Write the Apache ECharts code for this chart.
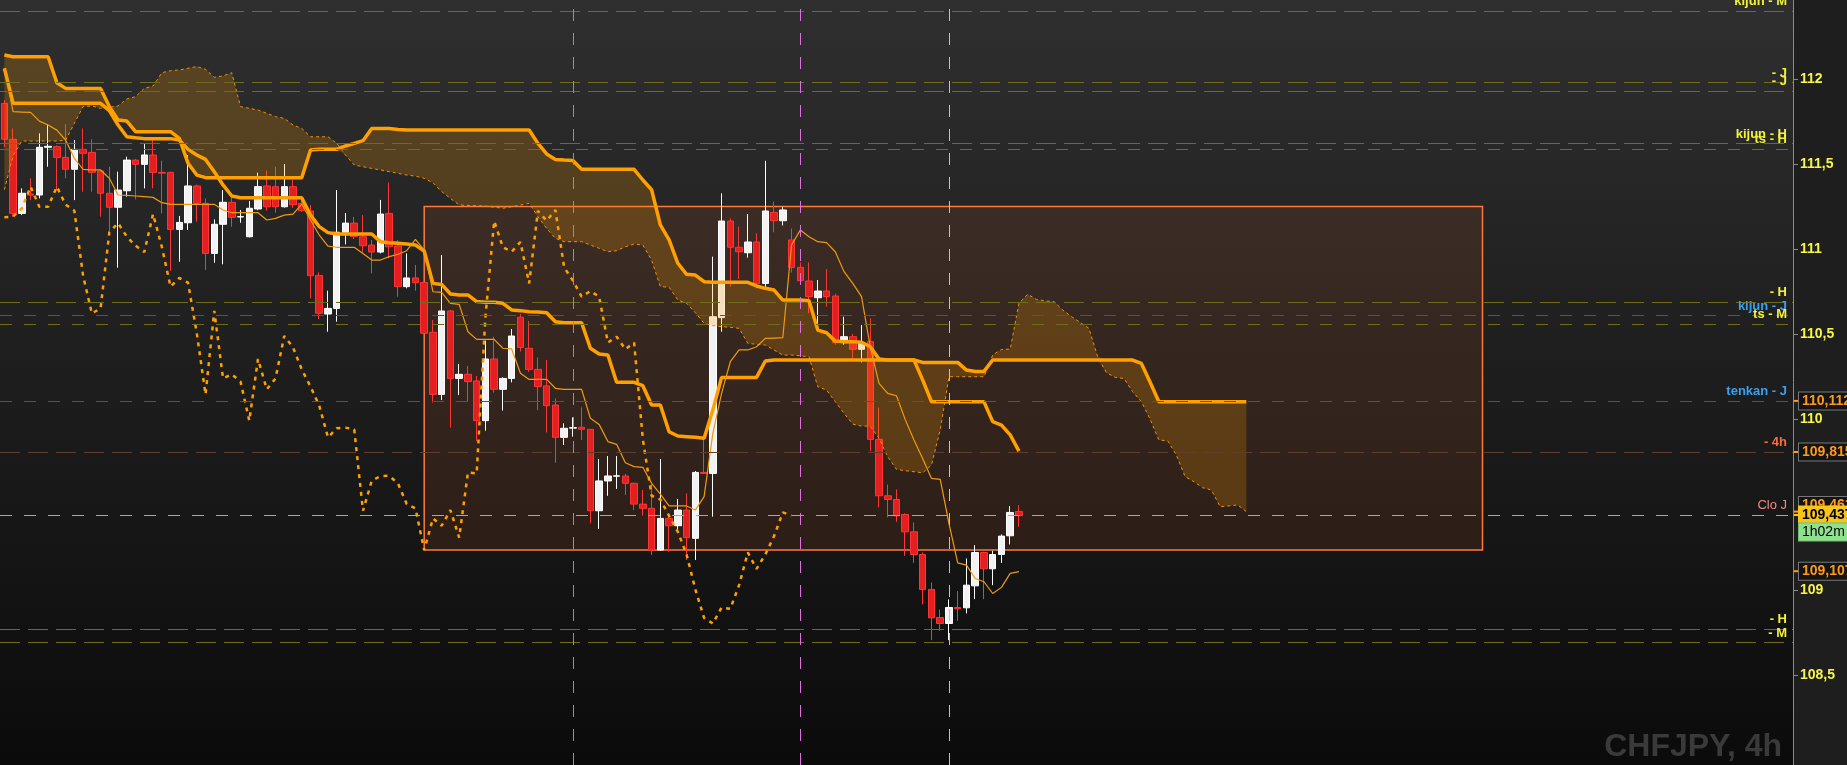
<!DOCTYPE html>
<html><head><meta charset="utf-8">
<script src="https://cdn.jsdelivr.net/npm/echarts@6/dist/echarts.min.js"></script>
<style>html,body{margin:0;padding:0;background:#1e1e1e;overflow:hidden}#c{width:1847px;height:765px;}</style>
</head><body><div id="c"></div><script>
// ---- candles (4h CHFJPY) ----
const candleOpen = [111.857,111.646,111.211,111.325,111.319,111.599,111.603,111.540,111.470,111.587,
111.569,111.460,111.329,111.247,111.344,111.524,111.499,111.554,111.452,111.452,
111.117,111.156,111.372,111.270,110.976,111.147,111.276,111.190,111.074,111.237,
111.372,111.368,111.250,111.368,111.270,111.225,110.847,110.620,110.653,111.100,
111.154,111.074,111.025,110.984,111.211,111.019,110.781,110.832,110.806,110.513,
110.148,110.638,110.242,110.266,110.227,109.994,110.356,110.178,110.242,110.601,
110.419,110.295,110.198,110.086,109.896,109.950,109.955,109.943,109.465,109.640,
109.668,109.669,109.626,109.504,109.479,109.234,109.420,109.377,109.469,109.303,
109.690,109.684,110.599,111.166,111.012,110.980,111.043,110.800,111.217,111.168,
111.055,110.894,110.814,110.716,110.755,110.726,110.452,110.487,110.413,110.458,
109.884,109.553,109.531,109.443,109.341,109.208,109.003,108.838,108.803,108.897,
108.895,109.024,109.220,109.124,109.208,109.318,109.461];
const candleClose = [111.646,111.211,111.329,111.318,111.599,111.605,111.540,111.470,111.587,111.564,
111.452,111.329,111.247,111.348,111.524,111.499,111.554,111.452,111.447,111.117,
111.158,111.372,111.270,110.976,111.147,111.276,111.188,111.192,111.241,111.368,
111.250,111.250,111.368,111.262,111.227,110.845,110.624,110.653,111.100,111.154,
111.074,111.021,110.984,111.207,111.015,110.781,110.832,110.804,110.507,110.148,
110.638,110.242,110.266,110.223,109.994,110.356,110.178,110.242,110.491,110.424,
110.295,110.194,110.082,109.896,109.949,109.953,109.943,109.465,109.640,109.669,
109.670,109.626,109.504,109.479,109.234,109.420,109.377,109.469,109.307,109.690,
109.684,110.604,111.166,111.012,110.986,111.043,110.800,111.225,111.168,111.231,
110.894,110.816,110.722,110.755,110.722,110.452,110.487,110.413,110.452,109.884,
109.553,109.531,109.435,109.341,109.208,109.003,108.836,108.803,108.897,108.889,
109.028,109.220,109.124,109.208,109.316,109.455,109.437];
const candleLow = [111.600,111.190,111.201,111.289,111.299,111.485,111.348,111.417,111.289,111.338,
111.338,111.192,111.104,110.892,111.309,111.293,111.358,111.358,111.211,110.873,
110.927,111.113,111.162,110.879,110.921,110.912,111.133,111.156,111.070,111.230,
111.227,111.215,111.245,111.243,111.220,110.712,110.589,110.516,110.575,111.029,
111.060,110.982,110.859,110.976,110.947,110.722,110.771,110.757,110.500,110.100,
110.115,109.953,110.144,110.109,109.874,109.935,110.158,110.053,110.219,110.400,
110.280,110.056,109.925,109.747,109.851,109.900,109.880,109.391,109.358,109.553,
109.593,109.557,109.469,109.436,109.205,109.230,109.225,109.352,109.176,109.176,
109.680,109.430,110.516,110.781,110.826,110.951,110.771,110.780,111.100,111.140,
110.863,110.800,110.624,110.536,110.663,110.440,110.440,110.356,110.336,109.815,
109.484,109.426,109.400,109.200,109.159,108.915,108.705,108.760,108.705,108.819,
108.862,108.946,108.946,109.028,109.159,109.267,109.371];
const candleHigh = [111.877,111.710,111.358,111.417,111.681,111.734,111.610,111.736,111.642,111.710,
111.646,111.466,111.485,111.456,111.544,111.530,111.618,111.646,111.520,111.456,
111.196,111.554,111.380,111.299,111.176,111.348,111.309,111.231,111.284,111.450,
111.462,111.485,111.501,111.407,111.313,111.260,110.865,110.757,111.348,111.213,
111.190,111.201,111.055,111.290,111.393,111.055,110.976,110.908,110.810,110.585,
110.967,110.644,110.327,110.315,110.256,110.464,110.487,110.248,110.532,110.620,
110.579,110.366,110.350,110.125,109.978,110.013,110.072,109.945,109.769,109.786,
109.786,109.681,109.630,109.587,109.622,109.769,109.450,109.534,109.567,109.698,
109.880,110.957,111.329,111.182,111.133,111.207,111.094,111.520,111.280,111.250,
111.123,110.923,110.923,110.820,110.884,110.740,110.604,110.503,110.556,110.595,
110.071,109.619,109.590,109.450,109.396,109.220,109.044,108.885,108.944,108.993,
109.185,109.263,109.225,109.230,109.326,109.492,109.498];

// ---- Ichimoku ----
const tenkan = [112.060,111.808,111.806,111.804,111.753,111.730,111.700,111.642,111.534,111.470,
111.466,111.466,111.417,111.319,111.317,111.313,111.309,111.305,111.274,111.264,
111.264,111.264,111.264,111.264,111.264,111.231,111.215,111.215,111.215,111.215,
111.172,111.182,111.201,111.207,111.266,111.172,111.084,111.019,111.012,111.012,
111.012,110.976,110.937,110.937,110.957,110.971,110.992,111.059,110.996,110.751,
110.747,110.683,110.677,110.516,110.471,110.471,110.471,110.419,110.415,110.272,
110.236,110.236,110.236,110.184,110.178,110.178,110.178,110.008,109.972,109.871,
109.855,109.747,109.724,109.720,109.626,109.563,109.493,109.493,109.493,109.469,
109.548,109.919,110.154,110.340,110.409,110.409,110.428,110.477,110.479,110.481,
111.025,111.113,111.074,111.045,111.039,110.986,110.869,110.800,110.722,110.428,
110.213,110.154,110.140,110.000,109.880,109.770,109.655,109.649,109.390,109.159,
109.146,109.067,109.048,108.979,109.015,109.097,109.107];
const kijun = [112.063,111.857,111.857,111.857,111.857,111.857,111.857,111.857,111.857,111.857,
111.857,111.857,111.814,111.730,111.661,111.655,111.650,111.650,111.650,111.650,
111.642,111.587,111.554,111.528,111.456,111.378,111.313,111.303,111.303,111.303,
111.303,111.303,111.303,111.303,111.303,111.201,111.133,111.098,111.090,111.090,
111.090,111.090,111.090,111.045,111.039,111.035,111.031,111.025,110.990,110.800,
110.794,110.738,110.732,110.732,110.693,110.689,110.689,110.683,110.644,110.640,
110.634,110.632,110.628,110.575,110.569,110.569,110.569,110.419,110.385,110.379,
110.219,110.219,110.219,110.199,110.086,110.086,109.929,109.904,109.900,109.896,
109.890,110.056,110.248,110.248,110.248,110.248,110.248,110.344,110.350,110.350,
110.350,110.350,110.350,110.350,110.350,110.350,110.350,110.350,110.350,110.350,
110.350,110.350,110.350,110.350,110.350,110.232,110.105,110.105,110.105,110.105,
110.105,110.105,110.105,109.988,109.968,109.910,109.815];
const spanA = [111.350,111.550,111.636,111.636,111.636,111.636,111.636,111.640,111.740,111.838,
111.842,111.828,111.834,111.842,111.883,111.896,111.945,111.959,112.037,112.049,
112.053,112.063,112.073,112.057,112.010,112.018,112.037,111.838,111.828,111.818,
111.799,111.779,111.769,111.730,111.710,111.661,111.661,111.661,111.622,111.554,
111.495,111.485,111.475,111.466,111.456,111.446,111.436,111.430,111.417,111.391,
111.339,111.299,111.260,111.258,111.256,111.254,111.247,111.241,111.250,111.260,
111.270,111.192,111.123,111.064,111.045,111.045,111.045,111.025,111.006,110.986,
110.992,111.015,111.031,111.025,110.937,110.781,110.777,110.702,110.683,110.628,
110.565,110.552,110.546,110.542,110.536,110.448,110.442,110.438,110.409,110.379,
110.379,110.375,110.369,110.193,110.174,110.105,110.037,109.974,109.962,109.962,
109.890,109.782,109.708,109.700,109.694,109.688,109.733,109.940,110.252,110.252,
110.252,110.252,110.252,110.379,110.412,110.414,110.683,110.736,110.706,110.697,
110.693,110.644,110.605,110.571,110.536,110.370,110.276,110.248,110.242,110.164,
110.105,110.002,109.880,109.876,109.792,109.665,109.636,109.600,109.587,109.489,
109.493,109.499,109.460];
const spanB = [112.141,112.131,112.131,112.131,112.131,112.131,111.978,111.945,111.945,111.945,
111.945,111.945,111.838,111.759,111.753,111.691,111.691,111.691,111.691,111.691,
111.652,111.505,111.436,111.421,111.421,111.421,111.421,111.421,111.421,111.421,
111.421,111.421,111.421,111.421,111.421,111.583,111.587,111.587,111.587,111.607,
111.622,111.638,111.710,111.710,111.710,111.704,111.700,111.700,111.701,111.701,
111.701,111.701,111.701,111.701,111.701,111.701,111.701,111.701,111.701,111.701,
111.701,111.622,111.560,111.528,111.524,111.521,111.470,111.470,111.470,111.470,
111.470,111.470,111.470,111.407,111.350,111.143,111.055,110.918,110.853,110.849,
110.810,110.806,110.806,110.806,110.806,110.806,110.785,110.771,110.761,110.702,
110.702,110.702,110.698,110.526,110.510,110.461,110.458,110.458,110.454,110.428,
110.356,110.350,110.350,110.350,110.350,110.336,110.336,110.336,110.336,110.336,
110.291,110.283,110.283,110.350,110.350,110.350,110.350,110.350,110.350,110.350,
110.350,110.350,110.350,110.350,110.350,110.350,110.350,110.350,110.350,110.350,
110.330,110.219,110.105,110.105,110.105,110.105,110.105,110.105,110.105,110.105,
110.105,110.105,110.105];
const chikou = [111.188,111.192,111.241,111.368,111.250,111.250,111.368,111.262,111.227,110.845,
110.624,110.653,111.100,111.154,111.074,111.021,110.984,111.207,111.015,110.781,
110.832,110.804,110.507,110.148,110.638,110.242,110.266,110.223,109.994,110.356,
110.178,110.242,110.491,110.424,110.295,110.194,110.082,109.896,109.949,109.953,
109.943,109.465,109.640,109.669,109.670,109.626,109.504,109.479,109.234,109.420,
109.377,109.469,109.307,109.690,109.684,110.604,111.166,111.012,110.986,111.043,
110.800,111.225,111.168,111.231,110.894,110.816,110.722,110.755,110.722,110.452,
110.487,110.413,110.452,109.884,109.553,109.531,109.435,109.341,109.208,109.003,
108.836,108.803,108.897,108.889,109.028,109.220,109.124,109.208,109.316,109.455,
109.437];

// ---- levels, tags, markers ----
const levelValues = [112.403,111.982,111.931,111.617,111.593,110.689,110.614,110.561,110.112,109.815,109.437,108.774,108.686];
const levelLabels = ['kijun - M','- J','- J','kijun - H','ts - H','- H','kijun - J','ts - M','tenkan - J','- 4h','Clo J','- H','- M'];
const tagValues = [110.112,109.815,109.461,109.107,109.437];
const tagLabels = ['110,112','109,815','109,461','109,107','109,437'];
const timerLabel = '1h02m';
const vLineIndex = [65,91,108];
const boxCorners = [[48,111.252],[169,109.234]];
const yTickValues = [108.5,109,110,110.5,111,111.5,112];
const symbolLabel = 'CHFJPY, 4h';

// ---- styles ----
const FONT = '"Liberation Sans", Arial, sans-serif';
const levelStyle = {
  'kijun - M':{c:'#6d6d1c',t:'#f2f23a',d:[20,8]},
  '- J':{c:'#6d6d1c',t:'#f2f23a',d:[20,8]},
  'kijun - H':{c:'#6d6d1c',t:'#f2f23a',d:[20,8]},
  'ts - H':{c:'#6d6d1c',t:'#f2f23a',d:[12,12]},
  '- H':{c:'#6d6d1c',t:'#f2f23a',d:[20,8]},
  'kijun - J':{c:'#3d5a6e',t:'#3aa0ee',d:[12,12]},
  'ts - M':{c:'#6d6d1c',t:'#f2f23a',d:[12,12]},
  'tenkan - J':{c:'#3d5a6e',t:'#3aa0ee',d:[12,12]},
  '- 4h':{c:'#5e3e2c',t:'#ff6a3a',d:[20,8]},
  'Clo J':{c:'#f08a8a',t:'#f08a8a',d:[12,12],n:true},
  '- M':{c:'#6d6d1c',t:'#f2f23a',d:[20,8]}
};
const vColors = ['#6a98e6','#e26ee2','#f4c23c'];
const HIDDEN = 'rgba(0,0,0,0)';

const N = 205;
const cats = Array.from({length:N},(_,i)=>String(i));
const candleData = candleOpen.map((o,i)=>[o,candleClose[i],candleLow[i],candleHigh[i]]);
const cloudBase = spanA.map((a,i)=>Math.min(a,spanB[i]));
const cloudBand = spanA.map((a,i)=>Math.abs(a-spanB[i]));
const fmt = v => String(v).replace('.',',');

const markLineData = [];
levelValues.forEach((v,i)=>{
  const s = levelStyle[levelLabels[i]];
  markLineData.push({yAxis:v, lineStyle:{color:s.c,type:s.d,width:1},
    label:{show:true,position:'insideEndTop',formatter:levelLabels[i],color:s.t,
      fontWeight:s.n?'normal':'bold',fontSize:13,fontFamily:FONT,distance:[6,3]}});
});
vLineIndex.forEach((x,i)=>{
  markLineData.push({xAxis:x, lineStyle:{color:vColors[i],type:[12,12],width:1}, label:{show:false}});
});
// small ticks on the axis at each price tag
tagValues.forEach((v,i)=>{
  const cur = tagLabels[i]==='109,437';
  markLineData.push({yAxis:v, lineStyle:{color:HIDDEN,width:0},
    label:{show:true,position:'end',formatter:'\u00a0',distance:1,opacity:1,fontSize:2,
      width:5,height:2,padding:0,backgroundColor:cur?'#f7c41c':'#ff9a1a'}});
});
tagValues.forEach((v,i)=>{
  const cur = tagLabels[i]==='109,437';
  markLineData.push({yAxis:v, lineStyle:{color:HIDDEN,width:0},
    label:{show:true,position:'end',formatter:tagLabels[i],distance:6,opacity:1,
      color:cur?'#000':'#ff9a1a',backgroundColor:cur?'#f7c41c':'#141414',
      borderColor:cur?'#f7c41c':'#777',borderWidth:1,padding:[2,3,1,3],
      fontWeight:'bold',fontSize:14,fontFamily:FONT,
      offset: tagLabels[i]==='109,461'?[0,-6]:[0,0]}});
});
markLineData.push({yAxis:tagValues[4], lineStyle:{color:HIDDEN,width:0},
  label:{show:true,position:'end',formatter:timerLabel,distance:6,opacity:1,color:'#000',
    backgroundColor:'#8fe08f',borderColor:'#6fc06f',borderWidth:1,padding:[2,4,1,3],
    fontWeight:'normal',fontSize:14,fontFamily:FONT,offset:[0,17]}});

const chart = echarts.init(document.getElementById('c'));
chart.setOption({
  animation:false,
  backgroundColor:'#1e1e1e',
  grid:{left:-1.8,right:54,top:0,bottom:0,show:true,borderWidth:0,
    backgroundColor:new echarts.graphic.LinearGradient(0,0,0,1,[{offset:0,color:'#2f2f2f'},{offset:1,color:'#0b0b0b'}])},
  xAxis:{type:'category',data:cats,boundaryGap:true,show:false},
  yAxis:{type:'value',position:'right',min:107.972,max:112.464,
    axisLine:{show:true,lineStyle:{color:'#8a8a8a',width:1}},
    axisTick:{show:true,length:5,lineStyle:{color:'#8a8a8a'},customValues:yTickValues},
    axisLabel:{show:true,color:'#f5f54a',fontWeight:'bold',fontSize:14,fontFamily:FONT,margin:7,
      customValues:yTickValues,formatter:fmt},
    splitLine:{show:false}},
  graphic:[{type:'text',right:65,bottom:2,silent:true,
    style:{text:symbolLabel,fill:'#3a3a3a',font:'bold 32px '+FONT}}],
  series:[
    {type:'line',name:'box',data:[],silent:true,
      markArea:{silent:true,itemStyle:{color:'rgba(255,120,40,0.10)',borderColor:'#ff7a3c',borderWidth:1.5},
        data:[[{xAxis:boxCorners[0][0],yAxis:boxCorners[0][1]},{xAxis:boxCorners[1][0],yAxis:boxCorners[1][1]}]]}},
    {type:'line',name:'cloudBase',data:cloudBase,stack:'cloud',showSymbol:false,silent:true,
      lineStyle:{opacity:0}},
    {type:'line',name:'cloudBand',data:cloudBand,stack:'cloud',showSymbol:false,silent:true,
      lineStyle:{opacity:0},areaStyle:{color:'rgba(255,155,0,0.30)'}},
    {type:'line',name:'levels',data:tenkan.map(()=>null),clip:false,silent:true,
      markLine:{silent:true,symbol:['none','none'],animation:false,data:markLineData}},
    {type:'candlestick',name:'CHFJPY',data:candleData,barWidth:7,
      itemStyle:{color:'#f2f2f2',color0:'#e41f1f',borderColor:'#ffffff',borderColor0:'#ff3535',borderWidth:1}},
    {type:'line',name:'spanA',data:spanA,showSymbol:false,silent:true,
      lineStyle:{color:'#f09000',width:1,type:[3,3]}},
    {type:'line',name:'spanB',data:spanB,showSymbol:false,silent:true,
      lineStyle:{color:'#ffa000',width:3.5}},
    {type:'line',name:'kijun',data:kijun,showSymbol:false,silent:true,
      lineStyle:{color:'#ffa000',width:3.5}},
    {type:'line',name:'tenkan',data:tenkan,showSymbol:false,silent:true,
      lineStyle:{color:'#f09a10',width:1.2}},
    {type:'line',name:'chikou',data:chikou,showSymbol:false,silent:true,
      lineStyle:{color:'#ffa000',width:2.5,type:[4,5]}}
  ]
});
</script></body></html>
